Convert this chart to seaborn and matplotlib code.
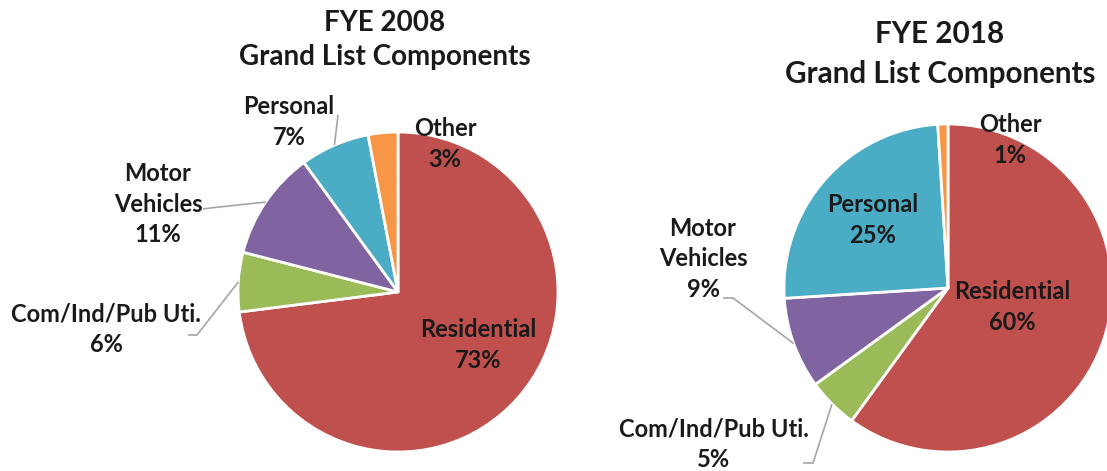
import matplotlib
matplotlib.use("Agg")
import matplotlib.pyplot as plt
import seaborn as sns
import numpy as np

# data
categories = ["Residential", "Com/Ind/Pub Uti.", "Motor Vehicles", "Personal", "Other"]
share_2008 = [73, 6, 11, 7, 3]
share_2018 = [60, 5, 9, 25, 1]
titles = ["FYE 2008\nGrand List Components", "FYE 2018\nGrand List Components"]
slice_colors = ["#C0504D", "#9BBB59", "#8064A2", "#4BACC6", "#F79646"]

sns.set_theme(style="white")
plt.rcParams["font.family"] = ["Lato", "DejaVu Sans"]

W, H = 1107, 471
fig = plt.figure(figsize=(W / 100, H / 100), dpi=100)
ax = fig.add_axes([0, 0, 1, 1])


def px(x, y):
    # pixel coords (top-left origin) -> data coords
    return x, H - y


# layout per pie: center, radius, title pos/size, label positions and leader points
pies = [
    dict(values=share_2008, center=(398, 292), r=160, title_xy=(385, 40), title_fs=20,
         title_ls=1.35,
         labels={
             "Residential": (478, 345, None),
             "Com/Ind/Pub Uti.": (106, 329, [(197, 335), (188, 335)]),
             "Motor Vehicles": (158, 204, [(210, 208), (203, 209)]),
             "Personal": (289, 122, [(338, 115)]),
             "Other": (445, 144, None),
         }),
    dict(values=share_2018, center=(948, 288), r=164, title_xy=(940, 54), title_fs=21.3,
         title_ls=1.5,
         labels={
             "Residential": (1012, 307, None),
             "Com/Ind/Pub Uti.": (714, 444, [(813, 463), (803, 463)]),
             "Motor Vehicles": (703, 259, [(733, 298), (723, 298)]),
             "Personal": (873, 220, None),
             "Other": (1010, 140, None),
         }),
]

for p, title in zip(pies, titles):
    cx, cy = px(*p["center"])
    wedges, _ = ax.pie(p["values"], colors=slice_colors, startangle=90, counterclock=False,
                       center=(cx, cy), radius=p["r"],
                       wedgeprops=dict(edgecolor="white", linewidth=2))
    ax.text(*px(*p["title_xy"]), title, ha="center", va="center", fontsize=p["title_fs"],
            fontweight="bold", color="#1a1a1a", linespacing=p["title_ls"])
    for w, cat, val in zip(wedges, categories, p["values"]):
        lx, ly, leader = p["labels"][cat]
        name = cat.replace("Motor Vehicles", "Motor\nVehicles")
        ax.text(*px(lx, ly), f"{name}\n{val}%", ha="center", va="center", fontsize=17,
                fontweight="bold", color="#1a1a1a", linespacing=1.4)
        if leader:
            mid = np.deg2rad((w.theta1 + w.theta2) / 2)
            ex, ey = cx + p["r"] * np.cos(mid), cy + p["r"] * np.sin(mid)
            pts = [(ex, ey)] + [px(a, b) for a, b in leader]
            xs, ys = zip(*pts)
            ax.plot(xs, ys, color="#A6A6A6", lw=1.2, solid_capstyle="butt")

ax.set_xlim(0, W)
ax.set_ylim(0, H)
ax.set_aspect("equal")
ax.axis("off")

fig.savefig("out.png", dpi=100)
